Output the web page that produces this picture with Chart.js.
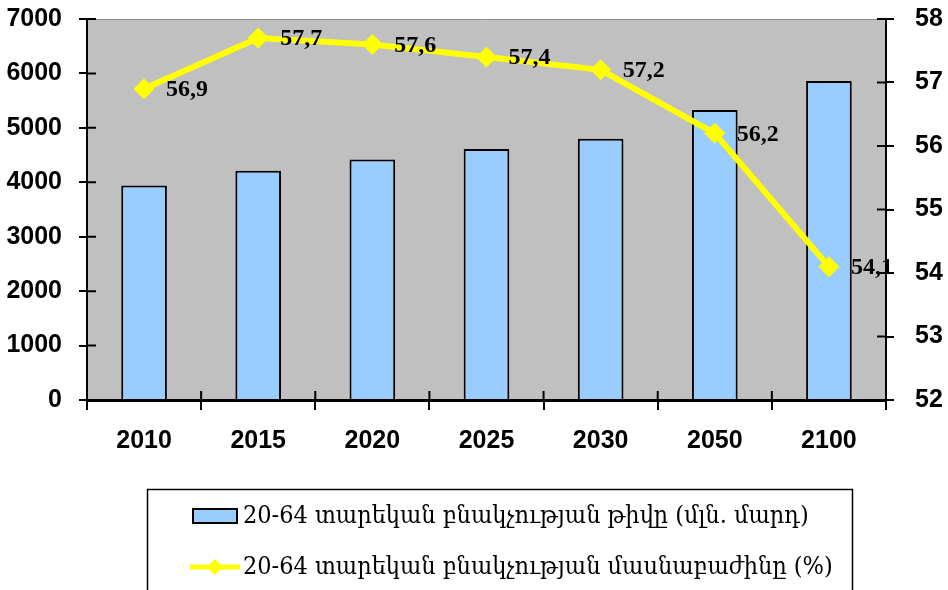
<!DOCTYPE html>
<html>
<head>
<meta charset="utf-8">
<script src="https://cdn.jsdelivr.net/npm/chart.js@4/dist/chart.umd.min.js"></script>
<style>
  html, body { margin: 0; padding: 0; background: #fff; }
  #wrap { width: 948px; height: 590px; }
</style>
</head>
<body>
<div id="wrap"><canvas id="graph1" width="948" height="590"></canvas></div>
<script>
var years = ['2010', '2015', '2020', '2025', '2030', '2050', '2100'];
var population = [3940, 4210, 4420, 4610, 4800, 5330, 5860];
var share = [56.9, 57.7, 57.6, 57.4, 57.2, 56.2, 54.1];
var populationLabel = '20-64 տարեկան բնակչության թիվը (մլն. մարդ)';
var shareLabel = '20-64 տարեկան բնակչության մասնաբաժինը (%)';
var leftAxisRange = [0, 7000, 1000];
var rightAxisRange = [52, 58, 1];

var tickFont = { family: '"Liberation Sans", Arial, sans-serif', size: 25, weight: 'bold' };

// gray plot background
var plotBackground = {
    id: 'plotBackground',
    beforeDraw: function(chart) {
        var a = chart.chartArea;
        var ctx = chart.ctx;
        ctx.save();
        ctx.fillStyle = '#c0c0c0';
        ctx.fillRect(a.left, a.top, a.right - a.left, a.bottom - a.top);
        ctx.strokeStyle = '#8c8c8c';
        ctx.lineWidth = 1;
        ctx.beginPath();
        ctx.moveTo(a.left, a.top + 0.5);
        ctx.lineTo(a.right, a.top + 0.5);
        ctx.stroke();
        ctx.restore();
    }
};

// tick marks also cross into the plot area, like the original
var innerTicks = {
    id: 'innerTicks',
    beforeDatasetsDraw: function(chart) {
        var ctx = chart.ctx;
        var a = chart.chartArea;
        var sx = chart.scales.x, sy = chart.scales.y, sy1 = chart.scales.y1;
        ctx.save();
        ctx.strokeStyle = '#000';
        ctx.lineWidth = 2;
        ctx.beginPath();
        for (var i = 0; i <= years.length; i++) {
            var x = sx.getPixelForTick(0) + (i - 0.5) * (sx.getPixelForTick(1) - sx.getPixelForTick(0));
            ctx.moveTo(x, a.bottom);
            ctx.lineTo(x, a.bottom - 9);
        }
        sy.ticks.forEach(function(t) {
            var y = sy.getPixelForValue(t.value);
            ctx.moveTo(a.left, y);
            ctx.lineTo(a.left + 9, y);
        });
        sy1.ticks.forEach(function(t) {
            var y = sy1.getPixelForValue(t.value);
            ctx.moveTo(a.right, y);
            ctx.lineTo(a.right - 9, y);
        });
        ctx.stroke();
        ctx.restore();
    }
};

// value labels next to the line points
var valueLabels = {
    id: 'valueLabels',
    afterDatasetsDraw: function(chart) {
        var ctx = chart.ctx;
        var meta = chart.getDatasetMeta(1);
        ctx.save();
        ctx.fillStyle = '#000';
        ctx.font = 'bold 24px "Liberation Serif", "Times New Roman", serif';
        ctx.textAlign = 'left';
        ctx.textBaseline = 'middle';
        meta.data.forEach(function(pt, i) {
            var txt = chart.data.datasets[1].data[i].toFixed(1).replace('.', ',');
            ctx.fillText(txt, pt.x + 22, pt.y + 1);
        });
        ctx.restore();
    }
};

// boxed legend under the chart
var boxLegend = {
    id: 'boxLegend',
    afterDraw: function(chart) {
        var ctx = chart.ctx;
        var ds = chart.data.datasets;
        ctx.save();
        ctx.strokeStyle = '#000';
        ctx.lineWidth = 1.5;
        ctx.strokeRect(147.5, 489.5, 705, 130);

        ctx.fillStyle = ds[0].backgroundColor;
        ctx.fillRect(192, 508, 46, 16);
        ctx.strokeStyle = '#000';
        ctx.lineWidth = 2;
        ctx.strokeRect(193, 509, 44, 14);

        ctx.strokeStyle = ds[1].borderColor;
        ctx.lineWidth = 5;
        ctx.beginPath();
        ctx.moveTo(190, 567);
        ctx.lineTo(240, 567);
        ctx.stroke();
        ctx.fillStyle = ds[1].borderColor;
        ctx.beginPath();
        ctx.moveTo(215, 559);
        ctx.lineTo(223, 567);
        ctx.lineTo(215, 575);
        ctx.lineTo(207, 567);
        ctx.closePath();
        ctx.fill();

        ctx.fillStyle = '#000';
        ctx.font = '25px "DejaVu Serif Condensed", "DejaVu Serif", serif';
        ctx.textAlign = 'left';
        ctx.textBaseline = 'middle';
        ctx.fillText(ds[0].label, 243, 516);
        ctx.fillText(ds[1].label, 243, 567);
        ctx.restore();
    }
};

function fixWidth(w) {
    return function(scale) {
        scale.width = w;
        scale.paddingTop = 0;
        scale.paddingBottom = 0;
    };
}

var ctx1 = document.getElementById('graph1').getContext('2d');
var graph1 = new Chart(ctx1, {
    type: 'bar',
    data: {
        labels: years,
        datasets: [{
            type: 'bar',
            label: populationLabel,
            data: population,
            yAxisID: 'y',
            backgroundColor: '#99ccff',
            borderColor: '#000000',
            borderWidth: 2,
            barPercentage: 0.4,
            categoryPercentage: 1,
            order: 2
        }, {
            type: 'line',
            label: shareLabel,
            data: share,
            yAxisID: 'y1',
            borderColor: '#ffff00',
            backgroundColor: '#ffff00',
            borderWidth: 6,
            pointStyle: 'rectRot',
            pointRadius: 10,
            pointBorderWidth: 1,
            tension: 0,
            order: 1
        }]
    },
    options: {
        responsive: false,
        animation: false,
        layout: { padding: { top: 19, bottom: 130, left: 0, right: 0 } },
        plugins: {
            legend: { display: false },
            tooltip: { enabled: false }
        },
        scales: {
            x: {
                afterFit: function(scale) { scale.height = 60; },
                border: { color: '#000', width: 3 },
                grid: { drawOnChartArea: false, color: '#000', lineWidth: 2, tickLength: 10, offset: true },
                ticks: { color: '#000', font: tickFont, padding: 16, maxRotation: 0 }
            },
            y: {
                position: 'left',
                min: leftAxisRange[0],
                max: leftAxisRange[1],
                afterFit: fixWidth(87),
                border: { color: '#000', width: 2 },
                grid: { drawOnChartArea: false, color: '#000', lineWidth: 2, tickLength: 8 },
                ticks: {
                    stepSize: leftAxisRange[2], color: '#000', font: tickFont, padding: 17,
                    callback: function(v) { return String(v); }
                }
            },
            y1: {
                position: 'right',
                min: rightAxisRange[0],
                max: rightAxisRange[1],
                afterFit: fixWidth(62),
                border: { color: '#000', width: 2 },
                grid: { drawOnChartArea: false, color: '#000', lineWidth: 2, tickLength: 8 },
                ticks: { stepSize: rightAxisRange[2], color: '#000', font: tickFont, padding: 21 }
            }
        }
    },
    plugins: [plotBackground, innerTicks, valueLabels, boxLegend]
});
</script>
</body>
</html>
